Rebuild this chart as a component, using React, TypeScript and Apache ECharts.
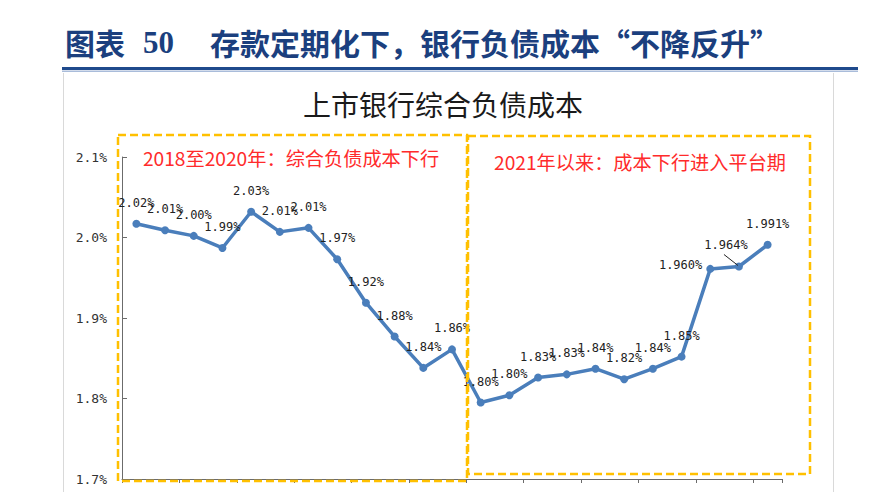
import React, { useEffect, useRef } from "react";
import * as echarts from "echarts";

const categories = [
  "2018Q1", "2018Q2", "2018Q3", "2018Q4",
  "2019Q1", "2019Q2", "2019Q3", "2019Q4",
  "2020Q1", "2020Q2", "2020Q3", "2020Q4",
  "2021Q1", "2021Q2", "2021Q3", "2021Q4",
  "2022Q1", "2022Q2", "2022Q3", "2022Q4",
  "2023Q1", "2023Q2", "2023Q3",
];
const costValues = [
  2.017, 2.009, 2.002, 1.987, 2.032, 2.007, 2.012, 1.973,
  1.919, 1.877, 1.838, 1.861, 1.795, 1.804, 1.826, 1.830,
  1.837, 1.824, 1.837, 1.852, 1.961, 1.964, 1.991,
];
const pointLabels = [
  "2.02%", "2.01%", "2.00%", "1.99%", "2.03%", "2.01%", "2.01%", "1.97%",
  "1.92%", "1.88%", "1.84%", "1.86%", "1.80%", "1.80%", "1.83%", "1.83%",
  "1.84%", "1.82%", "1.84%", "1.85%", "1.960%", "1.964%", "1.991%",
];
const yTicks = { min: 1.7, max: 2.1, interval: 0.1 };

const pageTitlePrefix = "图表";
const pageTitleNumber = "50";
const pageTitleMain = "存款定期化下，银行负债成本“不降反升”";
const chartTitle = "上市银行综合负债成本";
const note1 = "2018至2020年：综合负债成本下行";
const note2 = "2021年以来：成本下行进入平台期";

const leaderIndex = 21;

export default function App() {
  const ref = useRef<HTMLDivElement>(null);
  useEffect(() => {
    if (!ref.current) return;
    const chart = echarts.init(ref.current, null, { renderer: "svg" });
    const titleColor = "#1B3F7E";
    const cjk = "'Noto Sans CJK SC', sans-serif";
    const mono = "'DejaVu Sans Mono', monospace";
    const data = costValues.map((v, i) => {
      const item: any = { value: v };
      if (i === 20) {
        item.label = { position: "left", distance: 4, offset: [0, -4] };
      }
      if (i === leaderIndex) {
        item.label = { offset: [-13, 0] };
      }
      return item;
    });
    chart.setOption({
      animation: false,
      backgroundColor: "#fff",
      grid: { left: 122, right: 88, top: 157, bottom: 13, containLabel: false },
      xAxis: {
        type: "category",
        data: categories,
        boundaryGap: true,
        axisLine: { show: true, lineStyle: { color: "#6b6b6b", width: 1 } },
        axisTick: { show: true, inside: false, length: 4, lineStyle: { color: "#6b6b6b" } },
        axisLabel: { show: false },
        splitLine: { show: false },
      },
      yAxis: {
        type: "value",
        min: yTicks.min,
        max: yTicks.max,
        interval: yTicks.interval,
        axisLine: { show: true, lineStyle: { color: "#6b6b6b", width: 1 } },
        axisTick: { show: true, inside: true, length: 5, lineStyle: { color: "#6b6b6b" } },
        axisLabel: {
          margin: 15,
          color: "#333",
          fontFamily: mono,
          fontSize: 13,
          formatter: (v: number) => v.toFixed(1) + "%",
        },
        splitLine: { show: false },
      },
      series: [
        {
          type: "line",
          data,
          symbol: "circle",
          symbolSize: 8,
          lineStyle: { color: "#4A7EBB", width: 3.5 },
          itemStyle: { color: "#4A7EBB" },
          label: {
            show: true,
            position: "top",
            distance: 11,
            color: "#222",
            fontFamily: mono,
            fontSize: 12,
            formatter: (p: any) => pointLabels[p.dataIndex],
          },
          z: 3,
        },
      ],
      graphic: [
        {
          id: "t1",
          type: "text",
          left: 65,
          top: 27,
          style: { text: pageTitlePrefix, font: `bold 30px ${cjk}`, fill: titleColor },
        },
        {
          id: "t2",
          type: "text",
          left: 143,
          top: 27,
          style: { text: pageTitleNumber, font: "bold 31px 'Liberation Serif', serif", fill: titleColor },
        },
        {
          id: "t3",
          type: "text",
          left: 210,
          top: 27,
          style: { text: pageTitleMain, font: `bold 30px ${cjk}`, fill: titleColor },
        },
        { id: "r1", type: "rect", shape: { x: 62, y: 67, width: 796, height: 3 }, style: { fill: "#1F4A8C" } },
        { id: "r2", type: "rect", shape: { x: 62, y: 70.5, width: 796, height: 1.5 }, style: { fill: "#A9BCDA" } },
        { id: "l1", type: "line", shape: { x1: 63.5, y1: 73, x2: 63.5, y2: 492 }, style: { stroke: "#D9D9D9", lineWidth: 1 } },
        { id: "l2", type: "line", shape: { x1: 833.5, y1: 73, x2: 833.5, y2: 492 }, style: { stroke: "#D9D9D9", lineWidth: 1 } },
        {
          id: "ct",
          type: "text",
          x: 443,
          y: 104,
          style: {
            text: chartTitle,
            font: `28px ${cjk}`,
            fill: "#1a1a1a",
            textAlign: "center",
            textVerticalAlign: "middle",
          },
        },
        {
          id: "b1",
          type: "rect",
          shape: { x: 118, y: 135, width: 349, height: 346 },
          style: { fill: "none", stroke: "#FFC000", lineWidth: 2.5, lineDash: [8, 4] },
          z: 10,
        },
        {
          id: "b2",
          type: "rect",
          shape: { x: 468, y: 136, width: 342, height: 338 },
          style: { fill: "none", stroke: "#FFC000", lineWidth: 2.5, lineDash: [8, 4] },
          z: 10,
        },
        {
          id: "n1",
          type: "text",
          x: 291,
          y: 158,
          style: {
            text: note1,
            font: `19.2px ${cjk}`,
            fill: "#FF2B2B",
            textAlign: "center",
            textVerticalAlign: "middle",
          },
          z: 11,
        },
        {
          id: "n2",
          type: "text",
          x: 640,
          y: 162,
          style: {
            text: note2,
            font: `19.2px ${cjk}`,
            fill: "#FF2B2B",
            textAlign: "center",
            textVerticalAlign: "middle",
          },
          z: 11,
        },
        {
          id: "leader",
          type: "line",
          shape: { x1: 0, y1: 0, x2: 0, y2: 0 },
          style: { stroke: "#222", lineWidth: 1 },
          z: 12,
        },
      ],
    });
    const pt = chart.convertToPixel({ seriesIndex: 0 }, [leaderIndex, costValues[leaderIndex]]) as number[];
    if (pt && isFinite(pt[0]) && isFinite(pt[1])) {
      chart.setOption({
        graphic: [
          {
            id: "leader",
            type: "line",
            shape: { x1: pt[0] - 15, y1: pt[1] - 12, x2: pt[0] - 1, y2: pt[1] - 1 },
            style: { stroke: "#222", lineWidth: 1 },
            z: 12,
          },
        ],
      });
    }
    return () => chart.dispose();
  }, []);
  return (
    <div
      ref={ref}
      style={{ position: "fixed", left: 0, top: 0, width: 870, height: 492 }}
    />
  );
}
